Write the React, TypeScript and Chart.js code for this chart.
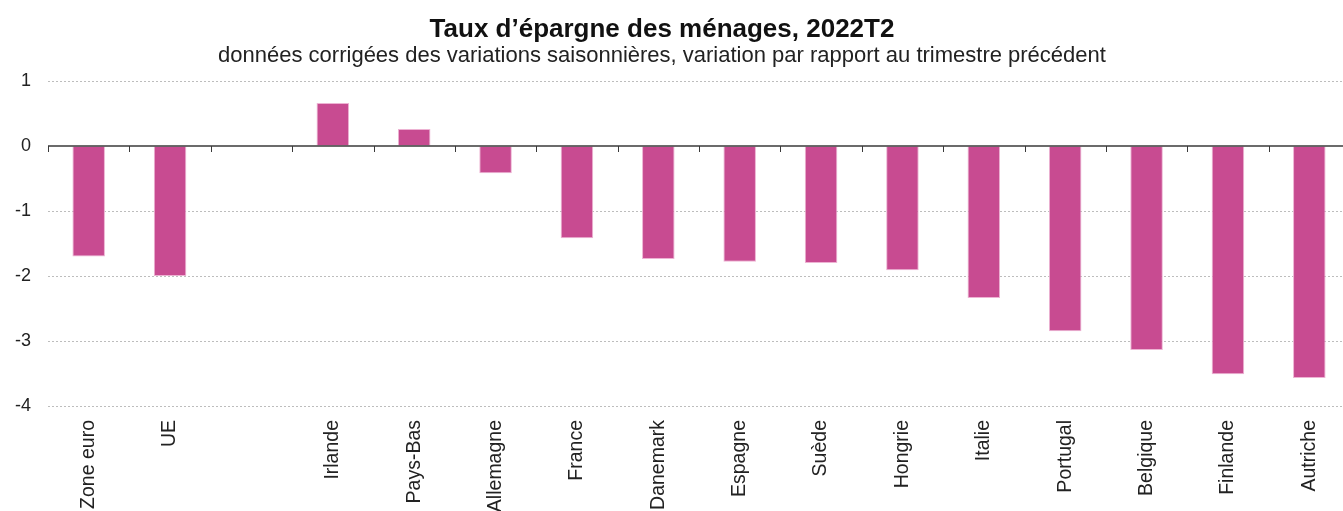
import React, { useEffect, useRef } from "react";
import { Chart, registerables } from "chart.js";

Chart.register(...registerables);

const categories = [
  "Zone euro", "UE", "", "Irlande", "Pays-Bas", "Allemagne", "France", "Danemark",
  "Espagne", "Suède", "Hongrie", "Italie", "Portugal", "Belgique", "Finlande", "Autriche",
];
const values: (number | null)[] = [
  -1.7, -2.0, null, 0.66, 0.26, -0.42, -1.42, -1.74,
  -1.78, -1.8, -1.91, -2.34, -2.85, -3.14, -3.51, -3.57,
];
const yTickValues = [1, 0, -1, -2, -3, -4];
const titleText = "Taux d’épargne des ménages, 2022T2";
const subtitleText =
  "données corrigées des variations saisonnières, variation par rapport au trimestre précédent";

const FONT = "'Liberation Sans', Arial, sans-serif";
const BAR_COLOR = "#C84B91";

const titlePlugin = {
  id: "titles",
  afterDraw(chart: any) {
    const { ctx } = chart;
    ctx.save();
    ctx.textAlign = "center";
    ctx.textBaseline = "alphabetic";
    ctx.fillStyle = "#111";
    ctx.font = `bold 26px ${FONT}`;
    ctx.fillText(titleText, 662, 37);
    ctx.fillStyle = "#222";
    ctx.font = `22px ${FONT}`;
    ctx.fillText(subtitleText, 662, 62);
    ctx.restore();
  },
};

const zeroLinePlugin = {
  id: "zeroLine",
  afterDatasetsDraw(chart: any) {
    const { ctx, chartArea, scales } = chart;
    const x = scales.x;
    const y = scales.y;
    const y0 = y.getPixelForValue(0);
    ctx.save();
    ctx.strokeStyle = "#3a3a3a";
    ctx.lineWidth = 1.5;
    ctx.beginPath();
    ctx.moveTo(chartArea.left, y0);
    ctx.lineTo(chartArea.right, y0);
    ctx.stroke();
    ctx.lineWidth = 1;
    const n = categories.length;
    for (let i = 0; i <= n; i++) {
      const px = Math.round(x.getPixelForValue(i - 0.5)) + 0.5;
      ctx.beginPath();
      ctx.moveTo(px, y0);
      ctx.lineTo(px, y0 + 6);
      ctx.stroke();
    }
    ctx.restore();
  },
};

export default function App() {
  const canvasRef = useRef<HTMLCanvasElement | null>(null);

  useEffect(() => {
    if (!canvasRef.current) return;
    const chart = new Chart(canvasRef.current, {
      type: "bar",
      data: {
        labels: categories,
        datasets: [
          {
            data: values,
            backgroundColor: BAR_COLOR,
            borderColor: "#EDB3D3",
            borderWidth: 1,
            barPercentage: 0.4,
            categoryPercentage: 1,
          },
        ],
      },
      options: {
        responsive: false,
        animation: false,
        layout: { padding: { top: 81, left: 0, right: 0, bottom: 0 } },
        plugins: {
          legend: { display: false },
          tooltip: { enabled: false },
          title: { display: false },
          subtitle: { display: false },
        },
        scales: {
          x: {
            grid: { display: false, drawTicks: false },
            border: { display: false },
            ticks: {
              minRotation: 90,
              maxRotation: 90,
              autoSkip: false,
              padding: 14,
              color: "#222",
              font: { family: FONT, size: 19.5 },
            },
            afterFit: (scale: any) => {
              scale.height = 105;
            },
          },
          y: {
            min: -4,
            max: 1,
            afterBuildTicks: (scale: any) => {
              scale.ticks = yTickValues.map((v) => ({ value: v }));
            },
            grid: {
              drawTicks: false,
              color: (ctx: any) =>
                ctx.tick && ctx.tick.value === 0 ? "rgba(0,0,0,0)" : "#BDBDBD",
              lineWidth: 1,
            },
            border: { display: false, dash: [2, 2] },
            ticks: {
              padding: 17,
              color: "#222",
              font: { family: FONT, size: 18 },
              callback: (v: any) => String(v),
            },
            afterFit: (scale: any) => {
              scale.width = 48;
            },
          },
        },
      },
      plugins: [zeroLinePlugin, titlePlugin],
    });
    return () => chart.destroy();
  }, []);

  return (
    <div
      style={{
        position: "fixed",
        left: 0,
        top: 0,
        width: 1343,
        height: 511,
        overflow: "hidden",
        background: "#fff",
      }}
    >
      <canvas ref={canvasRef} width={1350} height={511} style={{ display: "block" }} />
    </div>
  );
}
